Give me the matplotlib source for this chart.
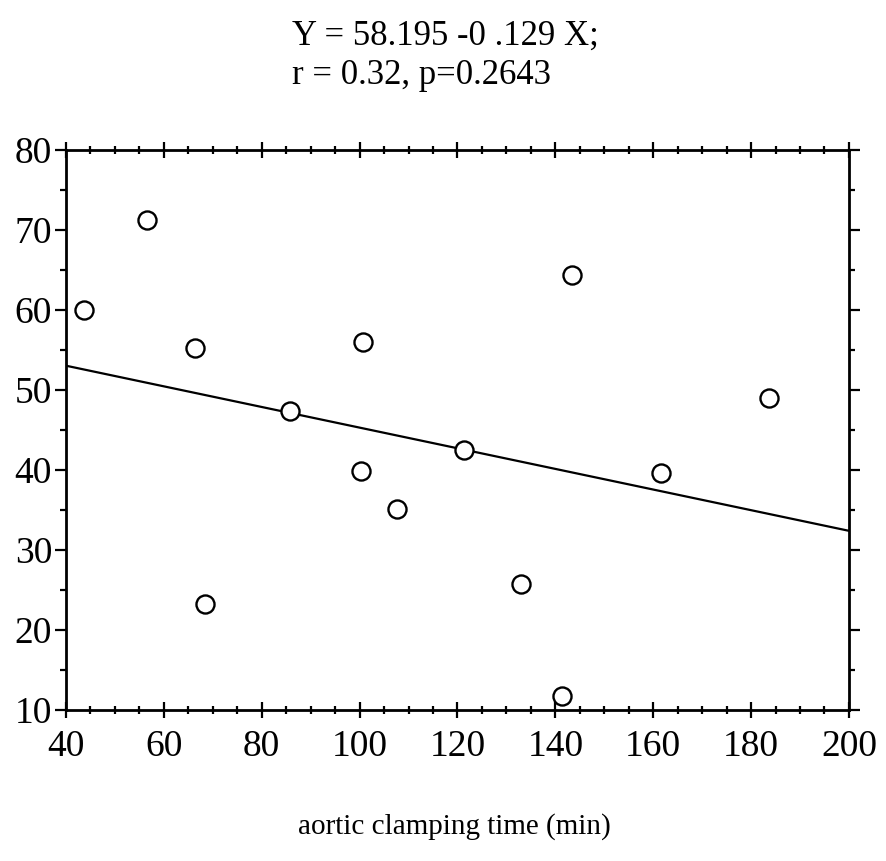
import numpy as np
import matplotlib
matplotlib.use('Agg')
from matplotlib import pyplot as plt
from matplotlib.ticker import MultipleLocator

plt.rcParams['font.family'] = ['Liberation Serif', 'DejaVu Serif']

# clamping time (min) vs measured value
clamp_time = [43.7, 56.6, 66.4, 68.4, 85.8, 100.7, 100.3, 107.6, 121.3, 133.0, 141.3, 143.4, 161.6, 183.6]
values = [60.0, 71.2, 55.3, 23.2, 47.4, 56.0, 39.9, 35.1, 42.5, 25.8, 11.8, 64.4, 39.6, 49.0]

intercept = 58.195
slope = -0.129
x_range = [40, 200]
y_range = [10, 80]

fig = plt.figure(figsize=(8.86, 8.61), dpi=100)
ax = fig.add_axes([0.0745, 0.1754, 0.8837, 0.6504])

ax.plot(clamp_time, values, 'o', mfc='white', mec='black', ms=13, mew=1.7, zorder=3)
line_x = np.array(x_range)
ax.plot(line_x, intercept + slope * line_x, color='black', lw=1.6)

ax.set_xlim(x_range)
ax.set_ylim(y_range)
ax.xaxis.set_major_locator(MultipleLocator(20))
ax.xaxis.set_minor_locator(MultipleLocator(5))
ax.yaxis.set_major_locator(MultipleLocator(10))
ax.yaxis.set_minor_locator(MultipleLocator(5))

for s in ax.spines.values():
    s.set_linewidth(2.0)

ax.tick_params(which='both', direction='out', width=1.6, labelsize=27, top=True, right=True,
               labeltop=False, labelright=False)
ax.tick_params(which='major', length=8)
ax.tick_params(which='minor', length=4)
ax.tick_params(axis='y', which='major', pad=2)
ax.tick_params(axis='x', which='both', top=True, direction='inout')
ax.tick_params(axis='x', which='major', length=12, pad=8)
ax.tick_params(axis='x', which='minor', length=6)

fig.text(0.33, 0.958, 'Y = 58.195 -0 .129 X;', fontsize=25, ha='left', va='center')
fig.text(0.33, 0.912, 'r = 0.32, p=0.2643', fontsize=25, ha='left', va='center')
fig.text(0.513, 0.040, 'aortic clamping time (min)', fontsize=21, ha='center', va='center')

fig.savefig('out.png', dpi=100)
